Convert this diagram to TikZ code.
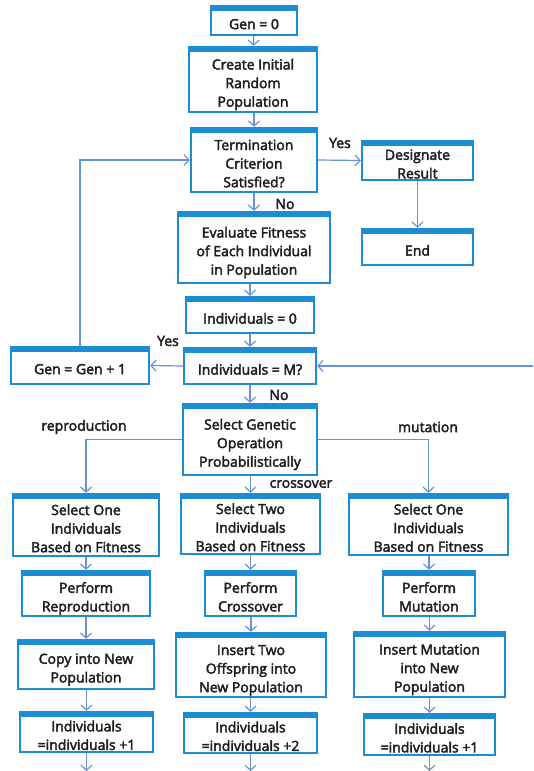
\documentclass[tikz,border=0pt]{standalone}
\usepackage{fontspec}
\setmainfont{Open Sans}
\newfontfamily\chartfont{Open Sans}[FakeBold=2.8]
\usetikzlibrary{arrows.meta,calc}
\definecolor{boxblue}{HTML}{1C8DD4}
\definecolor{linkblue}{HTML}{6693D2}
\definecolor{ink}{HTML}{1E1E1E}
% box text: centred lines, sitting a little below the middle of the frame
\newcommand\boxtext[1]{\raisebox{-8.5pt}[0pt][0pt]{\begin{tabular}{@{}c@{}}#1\end{tabular}}}
\begin{document}
\begin{tikzpicture}[x=1pt,y=-1pt,
  box/.style={draw=boxblue, line width=2.4pt, fill=white, inner sep=0pt,
    font=\chartfont\fontsize{14}{18.6}\selectfont, text=ink,
    path picture={\fill[boxblue] (path picture bounding box.north west)
      rectangle ($(path picture bounding box.north east)+(0,-5pt)$);}},
  link/.style={draw=linkblue, line width=1.2pt,
    -{Straight Barb[length=5pt,width=11pt,line width=1.2pt]}},
  lbl/.style={font=\chartfont\fontsize{14}{16}\selectfont, text=ink, inner sep=0pt}]
\useasboundingbox (0,0) rectangle (533,771);

% main column
\node[box, minimum width=86, minimum height=29] (gen0) at (254,20.5) {\boxtext{Gen = 0}};
\node[box, minimum width=128, minimum height=65] (create) at (253,79.5) {\boxtext{Create Initial\\Random\\Population}};
\node[box, minimum width=126, minimum height=64] (term) at (254,160) {\boxtext{Termination\\Criterion\\Satisfied?}};
\node[box, minimum width=111, minimum height=39] (desig) at (417.5,160.5) {\boxtext{Designate\\Result}};
\node[box, minimum width=111, minimum height=36] (end) at (417.5,247) {\boxtext{End}};
\node[box, minimum width=152, minimum height=71] (eval) at (254,247.5) {\boxtext{Evaluate Fitness\\of Each Individual\\in Population}};
\node[box, minimum width=128, minimum height=36] (ind0) at (250,315) {\boxtext{Individuals = 0}};
\node[box, minimum width=132, minimum height=36] (indM) at (250,366) {\boxtext{Individuals = M?}};
\node[box, minimum width=138, minimum height=37] (genp) at (80,365.5) {\boxtext{Gen = Gen + 1}};
\node[box, minimum width=134, minimum height=71] (select) at (250,439.5) {\boxtext{Select Genetic\\Operation\\Probabilistically}};

% three branches
\node[box, minimum width=146, minimum height=62] (sel1) at (86,525) {\boxtext{Select One\\Individuals\\Based on Fitness}};
\node[box, minimum width=139, minimum height=60] (sel2) at (250.5,524) {\boxtext{Select Two\\Individuals\\Based on Fitness}};
\node[box, minimum width=159, minimum height=61] (sel3) at (428.5,524.5) {\boxtext{Select One\\Individuals\\Based on Fitness}};

\node[box, minimum width=128, minimum height=45] (perf1) at (86,593.5) {\boxtext{Perform\\Reproduction}};
\node[box, minimum width=91, minimum height=45] (perf2) at (250.5,593.5) {\boxtext{Perform\\Crossover}};
\node[box, minimum width=92, minimum height=45] (perf3) at (429,593.5) {\boxtext{Perform\\Mutation}};

\node[box, minimum width=136, minimum height=49] (ins1) at (86,664.5) {\boxtext{Copy into New\\Population}};
\node[box, minimum width=150, minimum height=64] (ins2) at (251,665) {\boxtext{Insert Two\\Offspring into\\New Population}};
\node[box, minimum width=151, minimum height=65] (ins3) at (429.5,664.5) {\boxtext{Insert Mutation\\into New\\Population}};

\node[box, minimum width=133, minimum height=40] (cnt1) at (86.5,732) {\boxtext{Individuals\\=individuals +1}};
\node[box, minimum width=133, minimum height=40] (cnt2) at (250.5,733) {\boxtext{Individuals\\=individuals +2}};
\node[box, minimum width=131, minimum height=41] (cnt3) at (429.5,734.5) {\boxtext{Individuals\\=individuals +1}};

% free ends at the page edges
\coordinate (back) at (533,366);
\coordinate (out1) at (86.5,771);
\coordinate (out2) at (250.5,771);
\coordinate (out3) at (429.5,771);

% connectors
\draw[link] (gen0) -- (create);
\draw[link] (create.south -| term.north) -- (term.north);
\draw[link] (term.east) -- (desig.west);
\draw[link] (desig) -- (end);
\draw[link] (term.south -| eval.north) -- (eval.north);
\draw[link] (eval.south -| ind0.north) -- (ind0.north);
\draw[link] (ind0) -- (indM);
\draw[link] (indM.west) -- (genp.east);
\draw[link] (genp.north) |- (term.west);
\draw[link] (back) -- (indM.east);
\draw[link] (indM) -- (select);
\draw[link] (select.west) -| (sel1.north);
\draw[link] (select.south -| sel2.north) -- (sel2.north);
\draw[link] (select.east) -| (sel3.north);

\draw[link] (sel1) -- (perf1);
\draw[link] (sel2) -- (perf2);
\draw[link] (sel3.south -| perf3.north) -- (perf3.north);
\draw[link] (perf1) -- (ins1);
\draw[link] (perf2.south -| ins2.north) -- (ins2.north);
\draw[link] (perf3.south -| ins3.north) -- (ins3.north);
\draw[link] (ins1.south -| cnt1.north) -- (cnt1.north);
\draw[link] (ins2.south -| cnt2.north) -- (cnt2.north);
\draw[link] (ins3.south -| cnt3.north) -- (cnt3.north);
\draw[link] (cnt1) -- (out1);
\draw[link] (cnt2) -- (out2);
\draw[link] (cnt3) -- (out3);

% labels
\node[lbl] (yes1) at (340,143) {Yes};
\node[lbl] (no1) at (285,204) {No};
\node[lbl] (yes2) at (168,341) {Yes};
\node[lbl] (no2) at (279,395) {No};
\node[lbl] (lrep) at (84,427) {reproduction};
\node[lbl] (lmut) at (428,427) {mutation};
\node[lbl] (lcro) at (301,484) {crossover};
\end{tikzpicture}
\end{document}
